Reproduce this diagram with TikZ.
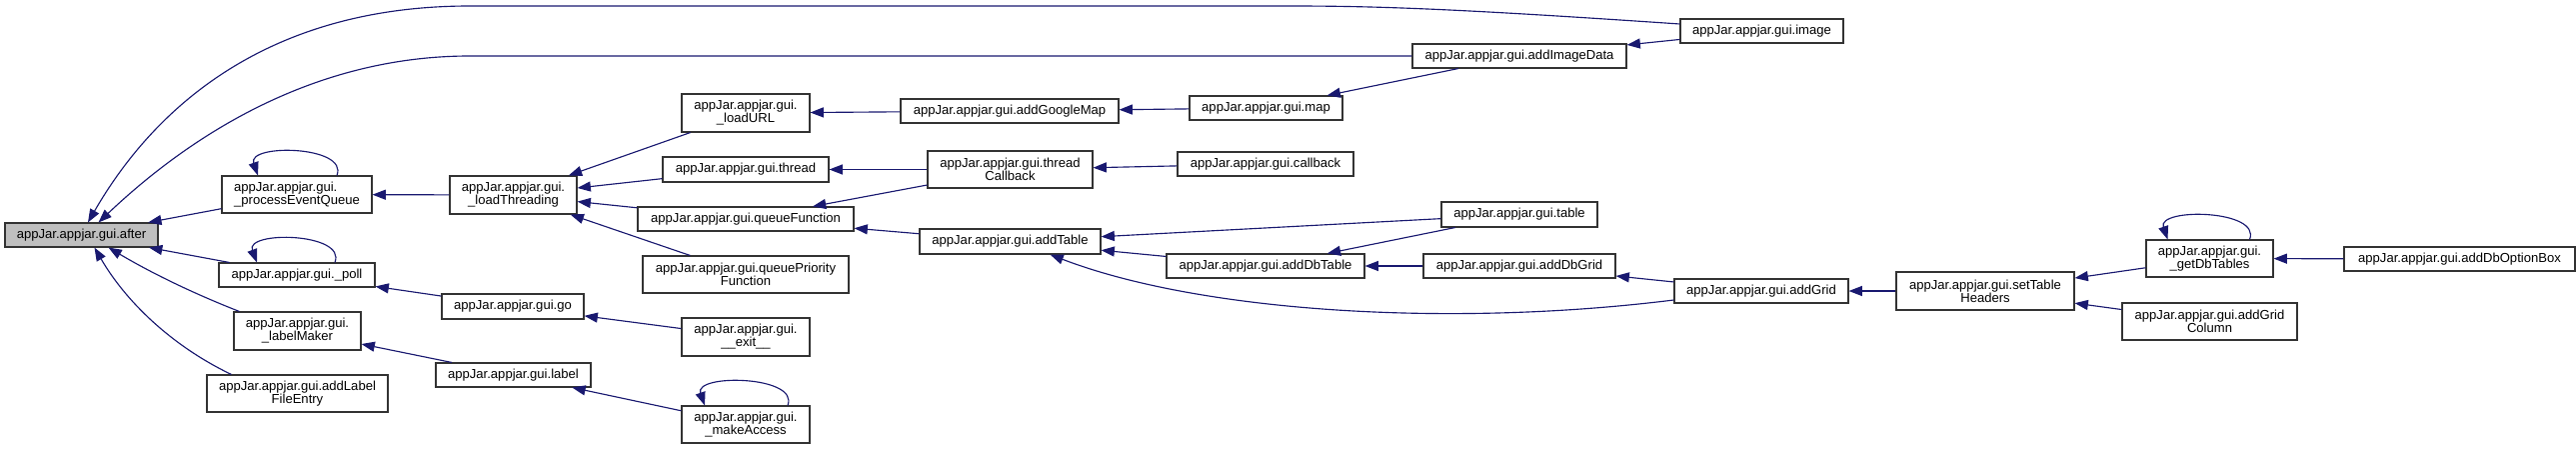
\documentclass[tikz,border=0pt]{standalone}
\usepackage{fontspec}
\newfontfamily\dxfont{Liberation Sans}
\usetikzlibrary{arrows.meta,calc}
\definecolor{edgecol}{HTML}{191970}
\definecolor{boxline}{HTML}{333333}
\definecolor{hl}{HTML}{BFBFBF}
\tikzset{
  box/.style={draw=boxline, line width=0.8pt, fill=white, inner sep=0pt, align=center,
    font={\dxfont\fontsize{9.8}{9.75}\selectfont}},
  arr/.style={draw=edgecol, line width=0.85pt, -{Triangle[length=10pt,width=7.5pt,fill=edgecol]}},
}
\newcommand\mybox[7][]{\node[box,#1,minimum width={(#5-#3)*0.75pt},minimum height={(#6-#4)*0.75pt}] (#2) at ({(#3+#5)/2},{(#4+#6)/2}) {#7};}
\begin{document}
\begin{tikzpicture}[x=0.75pt,y=-0.75pt]
\useasboundingbox (0,0) rectangle (2577,449);
% nodes
\mybox[fill=hl]{after}{5}{223}{158}{247}{appJar.appjar.gui.after}
\mybox[align=left]{pEQ}{222}{176}{372}{213}{appJar.appjar.gui.\\\_processEventQueue}
\mybox{poll}{219}{263}{375}{287}{appJar.appjar.gui.\_poll}
\mybox{labelMaker}{234}{312}{361}{350}{appJar.appjar.gui.\\\_labelMaker}
\mybox{addLabelFE}{207}{375}{388}{412}{appJar.appjar.gui.addLabel\\FileEntry}
\mybox{loadThreading}{450}{176}{577}{214}{appJar.appjar.gui.\\\_loadThreading}
\mybox{loadURL}{682}{94}{810}{132}{appJar.appjar.gui.\\\_loadURL}
\mybox{thread}{663}{157}{829}{182}{appJar.appjar.gui.thread}
\mybox{queueFunction}{638}{207}{854}{231}{appJar.appjar.gui.queueFunction}
\mybox{queuePF}{643}{256}{849}{293}{appJar.appjar.gui.queuePriority\\Function}
\mybox{go}{442}{294}{584}{319}{appJar.appjar.gui.go}
\mybox{exitN}{682}{318}{810}{356}{appJar.appjar.gui.\\\_\_exit\_\_}
\mybox{label}{436}{363}{591}{387}{appJar.appjar.gui.label}
\mybox{makeAccess}{682}{406}{810}{443}{appJar.appjar.gui.\\\_makeAccess}
\mybox{addGoogleMap}{901}{99}{1119}{123}{appJar.appjar.gui.addGoogleMap}
\mybox{threadCallback}{928}{151}{1093}{188}{appJar.appjar.gui.thread\\Callback}
\mybox{addTable}{920}{229}{1101}{254}{appJar.appjar.gui.addTable}
\mybox{map}{1190}{96}{1343}{120}{appJar.appjar.gui.map}
\mybox{callback}{1178}{152}{1354}{176}{appJar.appjar.gui.callback}
\mybox{addDbTable}{1167}{254}{1365}{278}{appJar.appjar.gui.addDbTable}
\mybox{image}{1681}{19}{1844}{43}{appJar.appjar.gui.image}
\mybox{addImageData}{1413}{44}{1627}{68}{appJar.appjar.gui.addImageData}
\mybox{table}{1442}{202}{1598}{227}{appJar.appjar.gui.table}
\mybox{addDbGrid}{1424}{254}{1616}{278}{appJar.appjar.gui.addDbGrid}
\mybox{addGrid}{1675}{279}{1849}{303}{appJar.appjar.gui.addGrid}
\mybox{setTH}{1897}{272}{2075}{310}{appJar.appjar.gui.setTable\\Headers}
\mybox{getDbTables}{2147}{240}{2274}{277}{appJar.appjar.gui.\\\_getDbTables}
\mybox{addGridColumn}{2123}{303}{2298}{340}{appJar.appjar.gui.addGrid\\Column}
\mybox{addDbOptionBox}{2345}{247}{2576}{271}{appJar.appjar.gui.addDbOptionBox}
% curved edges into after
\draw[arr] ($(image.west)+(0,-7)$) .. controls (1460,9) and (1380,6) .. (1290,6) -- (470,6)
  .. controls (260,6) and (150,115) .. ($(after.north)+(6.5,0)$);
\draw[arr] (addImageData.west) -- (470,56) .. controls (300,56) and (175,150) .. ($(after.north)+(17,0)$);
\draw[arr] ($(labelMaker.north west)+(6,0)$) .. controls (205,298) and (160,278) .. ($(after.south)+(27,0)$);
\draw[arr] ($(addLabelFE.north west)+(25,0)$) .. controls (170,345) and (125,300) .. ($(after.south)+(13,0)$);
% straight edges
\draw[arr] (pEQ) -- (after);
\draw[arr] (poll) -- (after);
\draw[arr] (loadThreading) -- (pEQ);
\draw[arr] (go) -- (poll);
\draw[arr] (label) -- (labelMaker);
\draw[arr] (loadURL) -- (loadThreading);
\draw[arr] (thread) -- (loadThreading);
\draw[arr] (queueFunction) -- (loadThreading);
\draw[arr] (queuePF) -- (loadThreading);
\draw[arr] (exitN) -- (go);
\draw[arr] (makeAccess) -- (label);
\draw[arr] (addGoogleMap) -- (loadURL);
\draw[arr] (threadCallback) -- (thread);
\draw[arr] (threadCallback) -- (queueFunction);
\draw[arr] (addTable) -- (queueFunction);
\draw[arr] (map) -- (addGoogleMap);
\draw[arr] (callback) -- (threadCallback);
\draw[arr] (image) -- (addImageData);
\draw[arr] (addImageData) -- (map);
\draw[arr] (table) -- (addTable);
\draw[arr] (addDbTable) -- (addTable);
\draw[arr] ($(addGrid.west)+(0,9)$) .. controls (1450,328) and (1200,312) .. ($(addTable.south)+(40,0)$);
\draw[arr] (table) -- (addDbTable);
\draw[arr] (addDbGrid) -- (addDbTable);
\draw[arr] (addGrid) -- (addDbGrid);
\draw[arr] (setTH) -- (addGrid);
\draw[arr] (getDbTables) -- (setTH);
\draw[arr] (addGridColumn) -- (setTH);
\draw[arr] (addDbOptionBox) -- (getDbTables);
% self loops
\draw[arr] ($(pEQ.north)+(40,0)$) .. controls ($(pEQ.north)+(52,-30)$) and ($(pEQ.north)+(-50,-32)$) .. ($(pEQ.north)+(-39,0)$);
\draw[arr] ($(poll.north)+(38,0)$) .. controls ($(poll.north)+(50,-30)$) and ($(poll.north)+(-52,-32)$) .. ($(poll.north)+(-40,0)$);
\draw[arr] ($(makeAccess.north)+(42,0)$) .. controls ($(makeAccess.north)+(54,-30)$) and ($(makeAccess.north)+(-52,-32)$) .. ($(makeAccess.north)+(-41,0)$);
\draw[arr] ($(getDbTables.north)+(40,0)$) .. controls ($(getDbTables.north)+(52,-30)$) and ($(getDbTables.north)+(-53,-32)$) .. ($(getDbTables.north)+(-42,0)$);
\end{tikzpicture}
\end{document}
